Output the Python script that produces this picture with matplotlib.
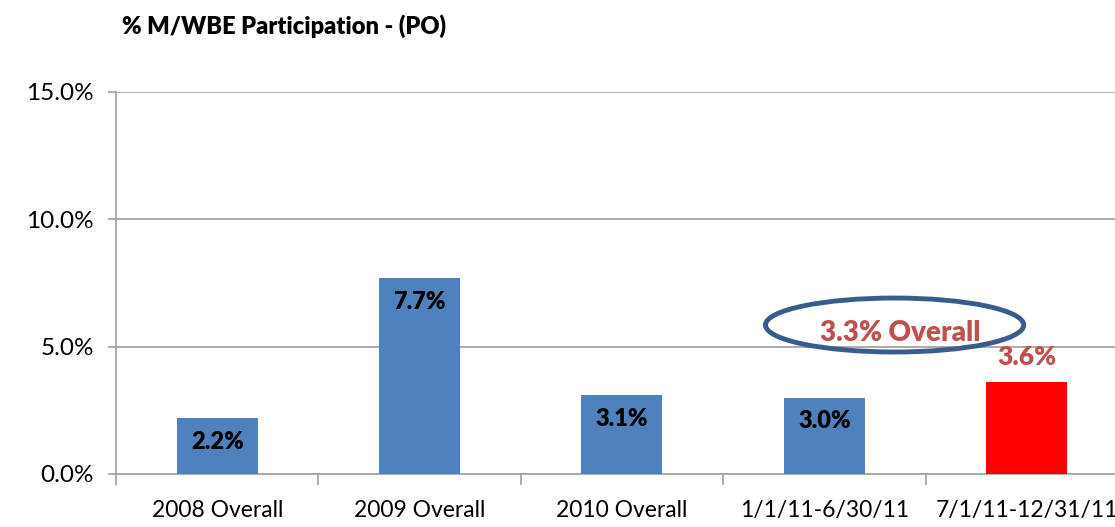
import matplotlib
matplotlib.use('Agg')
import matplotlib.pyplot as plt
from matplotlib.patches import Ellipse

# data
periods = ['2008 Overall', '2009 Overall', '2010 Overall', '1/1/11-6/30/11', '7/1/11-12/31/11']
pct = [2.2, 7.7, 3.1, 3.0, 3.6]
pct_labels = ['2.2%', '7.7%', '3.1%', '3.0%', '3.6%']
overall_note = '3.3% Overall'
y_ticks = [0, 5, 10, 15]

blue = '#4F81BD'
red_bar = '#FF0000'
red_txt = '#C0504D'
grid = '#A6A6A6'

plt.rcParams['font.family'] = ['Lato', 'DejaVu Sans']

fig = plt.figure(figsize=(11.15, 5.27), dpi=100)
ax = fig.add_axes([116 / 1115, (527 - 474) / 527, 1 - 116 / 1115, (474 - 92) / 527])

x = list(range(len(periods)))
colors = [blue] * (len(pct) - 1) + [red_bar]
ax.bar(x, pct, width=0.4, color=colors, zorder=3)

# labels inside the bars, the last one above in red
for i, (v, lab) in enumerate(zip(pct, pct_labels)):
    if i == len(pct) - 1:
        ax.annotate(lab, (i, v), xytext=(0, 18), textcoords='offset points',
                    ha='center', va='center', fontsize=19, fontweight='heavy', color=red_txt)
    else:
        ax.annotate(lab, (i, v), xytext=(0, -17), textcoords='offset points',
                    ha='center', va='center', fontsize=17, fontweight='heavy', color='black', zorder=4)

# highlighted overall figure
ax.add_patch(Ellipse((3.347, 5.85), 1.276, 2.12, fill=False, edgecolor='#385D8A', lw=3.5, zorder=5))
ax.text(3.375, 5.55, overall_note, ha='center', va='center', fontsize=20,
        fontweight='heavy', color=red_txt, zorder=6)

ax.set_ylim(0, 15)
ax.set_yticks(y_ticks)
ax.set_yticklabels([f'{t:.1f}%' for t in y_ticks], fontsize=17.5)
ax.yaxis.grid(True, color=grid, lw=1.3, zorder=0)
ax.tick_params(axis='y', length=6, color=grid, width=1.3, pad=10)

ax.set_xticks(x)
ax.set_xticklabels(periods, fontsize=16.5)
ax.tick_params(axis='x', length=0, pad=19)
ax.set_xticks([i - 0.5 for i in range(len(periods) + 1)], minor=True)
ax.tick_params(axis='x', which='minor', length=8, color=grid, width=1.3)
ax.set_xlim(-0.5, 4.436)

for s in ['top', 'right']:
    ax.spines[s].set_visible(False)
for s in ['left', 'bottom']:
    ax.spines[s].set_color(grid)
    ax.spines[s].set_linewidth(1.3)

fig.text(122 / 1115, 1 - 26 / 527, '% M/WBE Participation - (PO)', fontsize=17,
         fontweight='heavy', ha='left', va='center')

fig.savefig('out.png', dpi=100)
